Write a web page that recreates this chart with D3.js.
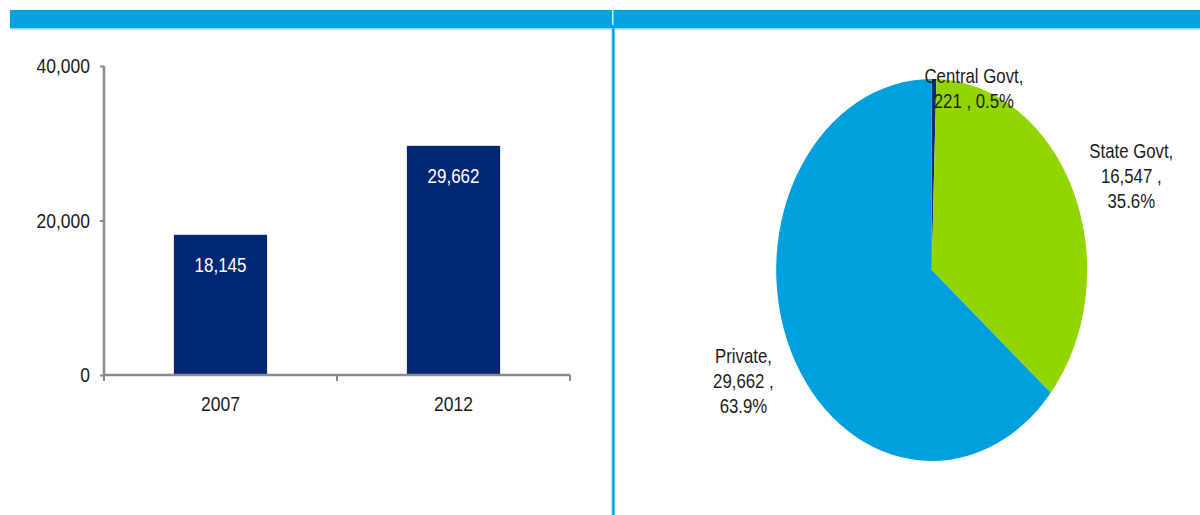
<!DOCTYPE html>
<html>
<head>
<meta charset="utf-8">
<script src="https://cdn.jsdelivr.net/npm/d3@7"></script>
<style>
  html, body { margin: 0; padding: 0; background: #fff; }
  svg { display: block; }
  text { font-family: "Liberation Sans", Arial, sans-serif; fill: #1c1c1c; }
</style>
</head>
<body>
<svg id="chart" width="1200" height="515"></svg>
<script>
// Installed capacity by year (bar chart)
const years = ["2007", "2012"];
const capacity = [18145, 29662];
const yTicks = [0, 20000, 40000];

// Capacity by ownership sector (pie chart)
const sectors = ["Central Govt", "State Govt", "Private"];
const sectorValues = [221, 16547, 29662];
const sectorColors = ["#0c2a7a", "#93d500", "#009fde"];

// label placement around the ellipse: radius factor and nudge
const labelPlacement = [
  { k: 0.95, dx: 40, dy: 0 },
  { k: 1.35, dx: 8, dy: 12 },
  { k: 1.35, dx: 2, dy: 2 }
];

const svg = d3.select("#chart");
const fmtInt = d3.format(",");
const fmtPct = d3.format(".1%");
const STRETCH = 1.15;

// text helper: glyphs are drawn slightly taller than wide
function label(parent, x, y, str, opts = {}) {
  const g = parent.append("g")
    .attr("transform", `translate(${x},${y}) scale(1,${STRETCH})`);
  return g.append("text")
    .attr("text-anchor", opts.anchor || "middle")
    .attr("dy", opts.dy || "0.35em")
    .style("font-size", (opts.size || 17) + "px")
    .style("fill", opts.fill || "#1c1c1c")
    .text(str);
}

// ---- header band and divider ----
svg.append("rect").attr("x", 10).attr("y", 10).attr("width", 1190).attr("height", 18)
  .attr("fill", "#02a1e0");
svg.append("rect").attr("x", 10).attr("y", 28).attr("width", 1190).attr("height", 1.5)
  .attr("fill", "#8ed4f3");
svg.append("rect").attr("x", 612).attr("y", 10).attr("width", 1.5).attr("height", 15)
  .attr("fill", "#cfeefb");
svg.append("rect").attr("x", 611.5).attr("y", 28).attr("width", 3.5).attr("height", 487)
  .attr("fill", "#7fd0f2");
svg.append("rect").attr("x", 612.3).attr("y", 28).attr("width", 2).attr("height", 487)
  .attr("fill", "#02a1e0");

// ---- bar chart ----
const x = d3.scaleBand().domain(years).range([104, 570])
  .paddingInner(0.6).paddingOuter(0.3);
const y = d3.scaleLinear().domain([0, 40000]).range([375, 66]);
const axisColor = "#8a8a8a";

const bars = svg.append("g");
bars.selectAll("rect").data(years).join("rect")
  .attr("x", d => x(d))
  .attr("width", x.bandwidth())
  .attr("y", (d, i) => y(capacity[i]))
  .attr("height", (d, i) => y(0) - y(capacity[i]))
  .attr("fill", "#002674");

years.forEach((d, i) => {
  label(bars, x(d) + x.bandwidth() / 2, y(capacity[i]) + 30, fmtInt(capacity[i]),
    { fill: "#ffffff", size: 17 });
});

// y axis
const yAxis = svg.append("g").attr("transform", "translate(104,0)")
  .call(d3.axisLeft(y).tickValues(yTicks).tickSize(4).tickFormat(""));
yAxis.select(".domain").attr("stroke", axisColor).attr("stroke-width", 2.5).attr("d", `M0,${y(40000)}V${y(0)}`);
yAxis.selectAll(".tick line").attr("stroke", axisColor).attr("stroke-width", 2);
yTicks.forEach(v => label(svg, 90, y(v), fmtInt(v), { anchor: "end", size: 17.5 }));

// x axis with boundary ticks
const xAxisG = svg.append("g");
xAxisG.append("line")
  .attr("x1", x.range()[0]).attr("x2", x.range()[1])
  .attr("y1", y(0)).attr("y2", y(0))
  .attr("stroke", axisColor).attr("stroke-width", 2.5);
const bounds = d3.range(years.length + 1).map(i => x.range()[0] + i * x.step());
xAxisG.selectAll("line.b").data(bounds).join("line").attr("class", "b")
  .attr("x1", d => d).attr("x2", d => d)
  .attr("y1", y(0)).attr("y2", y(0) + 6)
  .attr("stroke", axisColor).attr("stroke-width", 2);
years.forEach(d => label(xAxisG, x(d) + x.bandwidth() / 2, 404, d, { size: 17.5 }));

// ---- pie chart (drawn as an ellipse) ----
const cx = 931.7, cy = 270, rx = 155.5, ry = 191;
const pieData = d3.pie().sort(null).value(d => d)(sectorValues);
const total = d3.sum(sectorValues);
const arc = d3.arc().innerRadius(0).outerRadius(rx);

svg.append("g")
  .attr("transform", `translate(${cx},${cy}) scale(1,${ry / rx})`)
  .selectAll("path").data(pieData).join("path")
  .attr("d", arc)
  .attr("fill", (d, i) => sectorColors[i]);

const lines = [
  i => [sectors[i] + ",", fmtInt(sectorValues[i]) + " , " + fmtPct(sectorValues[i] / total)],
  i => [sectors[i] + ",", fmtInt(sectorValues[i]) + " ,", fmtPct(sectorValues[i] / total)],
  i => [sectors[i] + ",", fmtInt(sectorValues[i]) + " ,", fmtPct(sectorValues[i] / total)]
];
const lineGap = 25;
pieData.forEach((d, i) => {
  const mid = (d.startAngle + d.endAngle) / 2;
  const p = labelPlacement[i];
  const lx = cx + rx * p.k * Math.sin(mid) + p.dx;
  const ly = cy - ry * p.k * Math.cos(mid) + p.dy;
  const txt = lines[i](i);
  txt.forEach((t, j) => {
    label(svg, lx, ly + (j - (txt.length - 1) / 2) * lineGap, t, { size: 16.8 });
  });
});
</script>
</body>
</html>
